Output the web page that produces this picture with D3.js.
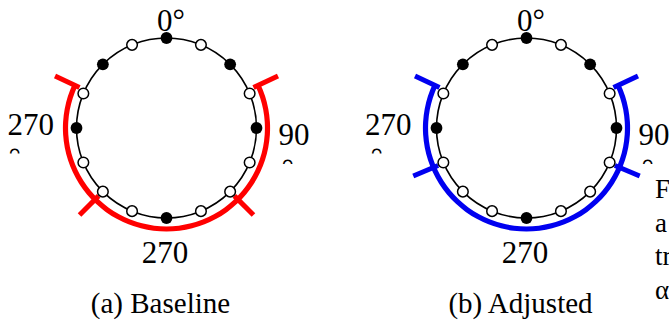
<!DOCTYPE html>
<html>
<head>
<meta charset="utf-8">
<script src="https://cdn.jsdelivr.net/npm/d3@7"></script>
<style>
  html, body { margin: 0; padding: 0; background: #fff; }
  svg { display: block; }
  text { font-family: "Liberation Serif", "Times New Roman", serif; fill: #000; }
</style>
</head>
<body>
<svg id="chart" width="669" height="323"></svg>
<script>
// Sixteen stations around the ring, clockwise from the top (degrees)
const stationAngles = [0, 22.5, 45, 67.5, 90, 112.5, 135, 157.5, 180, 202.5, 225, 247.5, 270, 292.5, 315, 337.5];
// 1 = occupied (filled), 0 = free (open)
const stationFilled = [1, 0, 1, 0, 1, 0, 0, 0, 1, 0, 0, 0, 1, 0, 1, 0];

// Panels
const panelCaptions = ["(a) Baseline", "(b) Adjusted"];
const panelColors = ["#ff0000", "#0000f0"];
// Covered range drawn outside the ring (start, end in degrees)
const coverStart = [65, 65];
const coverEnd = [295, 295];
// Boundary ticks on the covered range
const coverTicks = [[65, 135, 225, 295], [65, 113, 247, 295]];
// Text around each ring
const topLabel = "0°";
const leftLabel = "270";
const rightLabel = "90";
const bottomLabel = "270";
// Trailing caption lines cut at the right edge
const sideText = ["F", "a", "tr", "α"];

const svg = d3.select("#chart");
const deg = d3.scaleLinear().domain([0, 360]).range([0, 2 * Math.PI]);

const centers = [[166.5, 128], [526.5, 128]];
const ringR = 90;
const coverR = 101;
const tickIn = 96, tickOut = 123;

// clip used for the half-hidden degree marks under the side labels
const defs = svg.append("defs");

panelCaptions.forEach((cap, p) => {
  const [cx, cy] = centers[p];
  const g = svg.append("g").attr("transform", `translate(${cx},${cy})`);

  // covered range band
  g.append("path")
    .attr("d", d3.arc()
      .innerRadius(coverR - 2.6).outerRadius(coverR + 2.6)
      .startAngle(deg(coverStart[p])).endAngle(deg(coverEnd[p]))())
    .attr("fill", panelColors[p]);

  // boundary ticks
  g.selectAll("line.tick").data(coverTicks[p]).join("line")
    .attr("class", "tick")
    .attr("x1", d => d3.pointRadial(deg(d), tickIn)[0])
    .attr("y1", d => d3.pointRadial(deg(d), tickIn)[1])
    .attr("x2", d => d3.pointRadial(deg(d), tickOut)[0])
    .attr("y2", d => d3.pointRadial(deg(d), tickOut)[1])
    .attr("stroke", panelColors[p])
    .attr("stroke-width", 5);

  // ring
  g.append("circle").attr("r", ringR)
    .attr("fill", "none").attr("stroke", "#000").attr("stroke-width", 1.6);

  // stations
  g.selectAll("circle.st").data(stationAngles).join("circle")
    .attr("class", "st")
    .attr("cx", d => d3.pointRadial(deg(d), ringR)[0])
    .attr("cy", d => d3.pointRadial(deg(d), ringR)[1])
    .attr("r", (d, i) => stationFilled[i] ? 5.9 : 5.3)
    .attr("fill", (d, i) => stationFilled[i] ? "#000" : "#fff")
    .attr("stroke", "#000")
    .attr("stroke-width", (d, i) => stationFilled[i] ? 0 : 1.5);

  // labels
  g.append("text").attr("x", -9.5).attr("y", -97).attr("font-size", 31).text(topLabel);
  g.append("text").attr("x", -112.5 - (p ? 2.5 : 0)).attr("y", 7).attr("font-size", 31)
    .attr("text-anchor", "end").text(leftLabel);
  g.append("text").attr("x", 112).attr("y", 17).attr("font-size", 31).text(rightLabel);
  g.append("text").attr("x", -1.5).attr("y", 135).attr("font-size", 31)
    .attr("text-anchor", "middle").text(bottomLabel);

  // degree marks peeking below the side labels
  const marks = [[-158 + (p ? 2 : 0), 21, 25.5], [115, 32, 36]];
  marks.forEach(([mx, top, cut], k) => {
    const id = `clip${p}${k}`;
    defs.append("clipPath").attr("id", id)
      .append("rect").attr("x", cx + mx - 5).attr("y", cy + top - 2)
      .attr("width", 20).attr("height", cut - top + 2);
    svg.append("text")
      .attr("x", cx + mx).attr("y", cy + top + 21)
      .attr("font-size", 31)
      .attr("clip-path", `url(#${id})`)
      .text("°");
  });

  // caption
  svg.append("text").attr("x", cx - 6).attr("y", 313).attr("font-size", 29)
    .attr("text-anchor", "middle").text(cap);
});

// trailing caption lines at the right edge
svg.selectAll("text.side").data(sideText).join("text")
  .attr("class", "side")
  .attr("x", 655)
  .attr("y", (d, i) => 198 + i * 33.5)
  .attr("font-size", 27)
  .text(d => d);
</script>
</body>
</html>
